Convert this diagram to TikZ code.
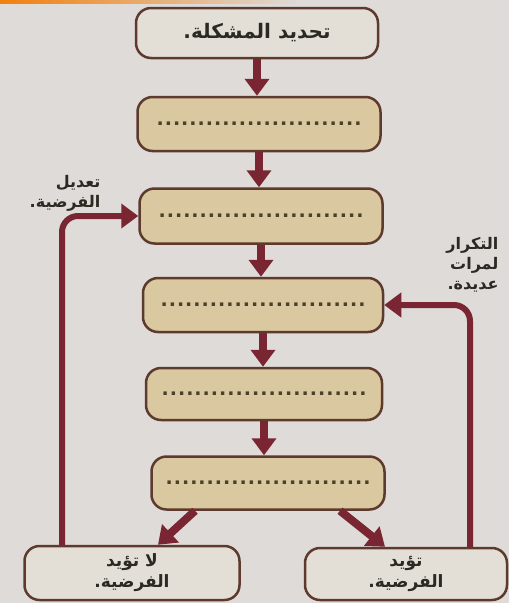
\documentclass[tikz,border=0pt]{standalone}
\usepackage{fontspec}
\usetikzlibrary{arrows.meta}
\TeXXeTstate=1
\newfontfamily\arabicfont[Script=Arabic]{DejaVu Sans}
\definecolor{bgc}{HTML}{DEDBD8}
\definecolor{tanc}{HTML}{D9C8A0}
\definecolor{lightc}{HTML}{E4DFD6}
\definecolor{edgec}{HTML}{5E3A2E}
\definecolor{arrc}{HTML}{7A2632}
\definecolor{inkc}{HTML}{2A2A22}
\definecolor{dotc}{HTML}{4A4228}
\newcommand{\dotrow}{\makebox[206pt]{\color{dotc}\fontsize{19}{19}\selectfont\xleaders\hbox to 8.2pt{\hss\bfseries.\hss}\hfill}}
\tikzset{
  boxbase/.style={draw=edgec, line width=2.5pt, rounded corners=15pt, inner sep=0pt, align=center, text=inkc, font=\arabicfont\bfseries\fontsize{20}{23}\selectfont},
  tanbox/.style={boxbase, fill=tanc},
  lightbox/.style={boxbase, fill=lightc},
  arr/.style={draw=arrc, line width=8pt, -{Triangle[width=24pt,length=17pt]}},
  lab/.style={text=inkc, align=right, font=\arabicfont\bfseries\fontsize{16}{20}\selectfont},
  smalltxt/.style={font=\arabicfont\bfseries\fontsize{17}{21}\selectfont}
}
\begin{document}
\begin{tikzpicture}[x=1pt,y=-1pt]
\useasboundingbox (0,0) rectangle (509,603);
\fill[bgc] (0,0) rectangle (509,603);
\shade[left color=orange!80!brown, right color=bgc] (0,0) rectangle (300,3);

\node[lightbox, minimum width=242pt, minimum height=50pt] (b1) at (257,33) {\beginR تحديد المشكلة.\endR};
\node[tanbox, minimum width=243pt, minimum height=54pt] (b2) at (259,124) {\dotrow};
\node[tanbox, minimum width=243pt, minimum height=55pt] (b3) at (261,216) {\dotrow};
\node[tanbox, minimum width=240pt, minimum height=54pt] (b4) at (263,305) {\dotrow};
\node[tanbox, minimum width=236pt, minimum height=52pt] (b5) at (264,394) {\dotrow};
\node[tanbox, minimum width=233pt, minimum height=53pt] (b6) at (268,483) {\dotrow};
\node[lightbox, smalltxt, minimum width=215pt, minimum height=54pt] (bl) at (132,573) {\beginR لا تؤيد\endR\\\beginR الفرضية.\endR};
\node[lightbox, smalltxt, minimum width=202pt, minimum height=52pt] (br) at (406,574) {\beginR تؤيد\endR\\\beginR الفرضية.\endR};

\node[lab, anchor=east] (l1) at (104,193) {\beginR تعديل\endR\\\beginR الفرضية.\endR};
\node[lab, anchor=east] (l2) at (502,265) {\beginR التكرار\endR\\\beginR لمرات\endR\\\beginR عديدة.\endR};

\draw[arr] (b1.south) -- (b1.south |- b2.north);
\draw[arr] (b2.south) -- (b2.south |- b3.north);
\draw[arr] (b3.south) -- (b3.south |- b4.north);
\draw[arr] (b4.south) -- (b4.south |- b5.north);
\draw[arr] (b5.south) -- (b5.south |- b6.north);
\draw[arr] ([xshift=-73pt]b6.south) -- ([xshift=26pt]bl.north);
\draw[arr] ([xshift=72pt]b6.south) -- ([xshift=-21pt]br.north);
\draw[arr, line width=6pt, rounded corners=16pt] ([xshift=-70pt]bl.north) |- (b3.west);
\draw[arr, line width=6pt, rounded corners=16pt] ([xshift=64pt]br.north) |- (b4.east);
\end{tikzpicture}
\end{document}
